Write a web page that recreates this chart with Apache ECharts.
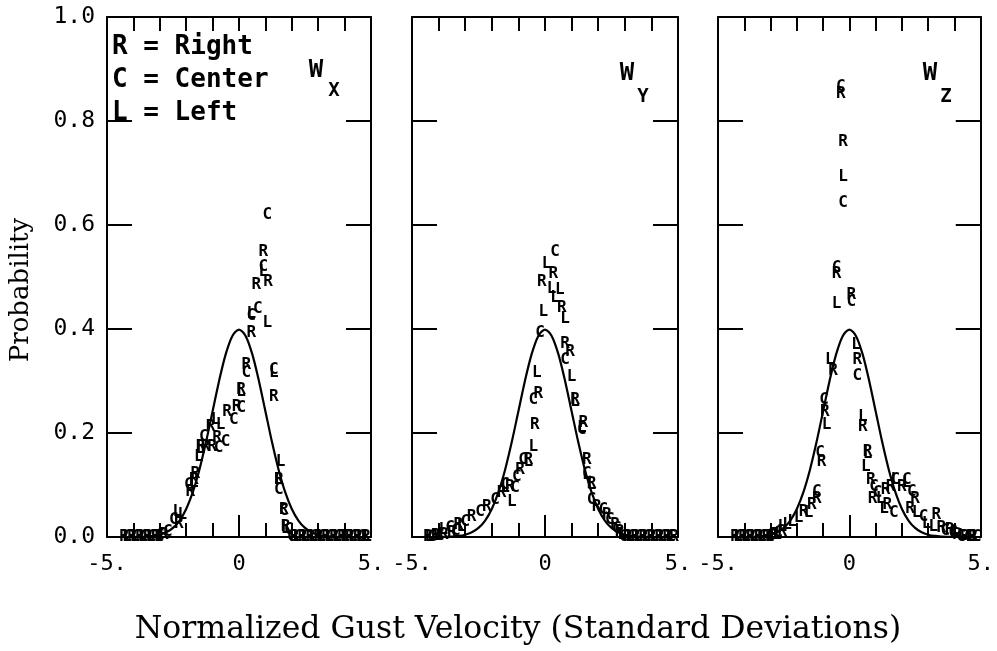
<!DOCTYPE html>
<html><head><meta charset="utf-8">
<script src="https://cdn.jsdelivr.net/npm/echarts@6/dist/echarts.min.js"></script>
<style>html,body{margin:0;padding:0;background:#fff}#c{width:997px;height:651px}</style>
</head><body><div id="c"></div>
<script>
// Normal reference curve
const curveX = [-5,-4.75,-4.5,-4.25,-4,-3.75,-3.5,-3.25,-3,-2.75,-2.5,-2.25,-2,-1.75,-1.5,-1.25,-1,-0.75,-0.5,-0.25,0,0.25,0.5,0.75,1,1.25,1.5,1.75,2,2.25,2.5,2.75,3,3.25,3.5,3.75,4,4.25,4.5,4.75,5];
const curveP = [0,0,0,0,0.0001,0.0004,0.0009,0.002,0.0044,0.0091,0.0175,0.0317,0.054,0.0863,0.1295,0.1826,0.242,0.3011,0.3521,0.3867,0.3989,0.3867,0.3521,0.3011,0.242,0.1826,0.1295,0.0863,0.054,0.0317,0.0175,0.0091,0.0044,0.002,0.0009,0.0004,0.0001,0,0,0,0];

// Panel W_x
const wxR = [[0.92,0.549],[1.10,0.491],[0.66,0.485],[0.47,0.393],[0.28,0.331],[0.08,0.283],[1.32,0.27],[-0.09,0.25],[-0.45,0.241],[-1.08,0.212],[-0.83,0.19],[-1.27,0.174],[-1.02,0.174],[-1.46,0.174],[-1.65,0.122],[-1.71,0.11],[-1.84,0.087],[-2.28,0.026],[1.51,0.11],[1.70,0.052],[1.76,0.02],
  [-4.35,0],[-4.05,0],[-3.75,0],[-3.45,0],[-3.15,0],[-2.85,0.005],[2.1,0],[2.4,0],[2.7,0],[3.0,0],[3.3,0],[3.6,0],[3.9,0],[4.2,0],[4.5,0],[4.8,0]];
const wxC = [[1.07,0.62],[0.92,0.52],[0.71,0.438],[0.47,0.425],[0.28,0.315],[1.32,0.322],[0.09,0.249],[-0.2,0.225],[-0.51,0.183],[-0.77,0.171],[-1.33,0.193],[-1.9,0.1],[-2.47,0.033],[1.51,0.09],[1.70,0.05],[1.89,0.013],
  [-4.2,0],[-3.9,0],[-3.6,0],[-3.3,0],[-3.0,0.002],[-2.7,0.01],[2.0,0],[2.25,0],[2.55,0],[2.85,0],[3.15,0],[3.45,0],[3.75,0],[4.05,0],[4.35,0],[4.65,0]];
const wxL = [[0.92,0.51],[0.47,0.43],[1.07,0.411],[1.32,0.315],[0.08,0.28],[-0.89,0.225],[-0.7,0.215],[-1.46,0.17],[-1.52,0.154],[-1.71,0.105],[-2.34,0.049],[-2.15,0.042],[1.57,0.145],[1.51,0.11],[1.76,0.015],
  [-4.25,0],[-3.95,0],[-3.65,0],[-3.35,0],[-3.05,0],[2.2,0],[2.5,0],[2.8,0],[3.1,0],[3.4,0],[3.7,0],[4.0,0],[4.3,0],[4.6,0],[4.85,0]];

// Panel W_y
const wyR = [[0.31,0.507],[-0.12,0.491],[0.63,0.44],[0.75,0.372],[0.94,0.356],[-0.25,0.276],[1.13,0.263],[1.44,0.219],[-0.38,0.215],[-0.63,0.148],[-0.94,0.129],[-1.32,0.097],[-1.63,0.084],[-2.19,0.058],[-2.76,0.039],[-3.26,0.023],[1.57,0.148],[1.75,0.103],[1.94,0.058],[2.32,0.042],[2.63,0.023],
  [-4.4,0],[-4.1,0.002],[-3.8,0.005],[-3.5,0.008],[2.8,0.01],[3.1,0],[3.4,0],[3.7,0],[4.0,0],[4.3,0],[4.6,0],[4.85,0]];
const wyC = [[0.38,0.549],[-0.19,0.392],[0.75,0.34],[-0.44,0.263],[1.38,0.206],[-0.82,0.148],[-1.06,0.116],[-1.5,0.1],[-1.13,0.094],[-1.88,0.071],[-2.44,0.049],[-3.0,0.029],[-3.57,0.017],[1.57,0.122],[1.75,0.071],[2.19,0.052],[2.44,0.033],
  [-4.25,0],[-3.95,0.003],[-3.35,0.012],[2.7,0.015],[2.95,0],[3.25,0],[3.55,0],[3.85,0],[4.15,0],[4.45,0],[4.75,0]];
const wyL = [[0.06,0.526],[0.25,0.478],[0.56,0.475],[0.38,0.459],[0.75,0.42],[-0.06,0.433],[-0.31,0.315],[1.0,0.308],[1.13,0.26],[1.38,0.21],[-0.44,0.174],[-0.63,0.145],[-1.25,0.068],[-1.5,0.095],[-3.82,0.013],[1.75,0.1],[1.57,0.12],
  [-4.35,0],[-4.05,0.002],[-3.15,0.02],[2.9,0.005],[3.2,0],[3.5,0],[3.8,0],[4.1,0],[4.4,0],[4.7,0]];

// Panel W_z
const wzR = [[-0.33,0.853],[-0.24,0.76],[-0.49,0.507],[0.07,0.465],[0.3,0.34],[-0.62,0.32],[-0.93,0.241],[-1.06,0.145],[-1.24,0.074],[0.51,0.212],[0.69,0.164],[0.82,0.11],[0.88,0.074],[1.38,0.09],[1.57,0.097],[2.0,0.097],[2.5,0.074],[3.31,0.042],[1.44,0.062],[2.31,0.055],[-1.43,0.062],[-1.74,0.049],
  [-4.35,0],[-4.05,0],[-3.75,0],[-3.45,0],[-3.15,0],[-2.85,0.005],[-2.55,0.01],[3.5,0.017],[3.81,0.013],[4.1,0.005],[4.4,0],[4.7,0]];
const wzC = [[-0.33,0.866],[-0.24,0.642],[-0.49,0.517],[0.07,0.452],[0.3,0.31],[-0.96,0.263],[-1.12,0.161],[-1.24,0.087],[1.07,0.084],[1.75,0.11],[2.19,0.11],[0.94,0.097],[2.38,0.087],[1.69,0.046],[2.82,0.039],
  [-4.2,0],[-3.9,0],[-3.6,0],[-3.3,0],[-3.0,0.003],[-2.7,0.008],[3.65,0.012],[3.95,0.008],[4.25,0],[4.55,0],[4.85,0]];
const wzL = [[-0.24,0.693],[-0.49,0.449],[0.25,0.37],[-0.74,0.34],[-0.87,0.215],[0.51,0.231],[0.63,0.135],[0.69,0.16],[1.19,0.074],[1.32,0.055],[1.75,0.11],[2.19,0.105],[2.56,0.046],[2.94,0.026],[3.19,0.02],[-1.55,0.046],[-1.93,0.036],[-2.18,0.029],[-2.37,0.023],[-2.55,0.02],
  [-4.25,0],[-3.95,0],[-3.65,0],[-3.35,0],[-3.05,0],[-2.75,0.005],[4.0,0.01],[4.3,0.003],[4.6,0],[4.8,0]];

const panelLetters = [[wxR, wxC, wxL],[wyR, wyC, wyL],[wzR, wzC, wzL]];
const letters = ['R','C','L'];
const panelSub = ['X','Y','Z'];
const yTickLabels = ['0.0','0.2','0.4','0.6','0.8','1.0'];
const xTickLabels = {'-5':'-5.','0':'0','5':'5.'};
const legendLines = ['R = Right','C = Center','L = Left'];

const gridLefts = [107, 412, 718];
const gridWidths = [264, 266, 267];
const MONO = 'DejaVu Sans Mono';

const grids = [], xAxes = [], yAxes = [], series = [];
for (let i = 0; i < 3; i++) {
  grids.push({left: gridLefts[i], width: gridWidths[i], top: 17, height: 520, containLabel: false});
  const line = {show: true, onZero: false, lineStyle: {color: '#000', width: 2}};
  xAxes.push({type: 'value', gridIndex: i, min: -5, max: 5, interval: 1, position: 'bottom',
    axisLine: line, splitLine: {show: false},
    axisTick: {show: true, inside: true, length: 14, lineStyle: {color: '#000', width: 2}},
    axisLabel: {show: true, margin: 16, color: '#000', fontFamily: MONO, fontSize: 22,
      formatter: v => (xTickLabels[String(v)] !== undefined ? xTickLabels[String(v)] : '')}});
  xAxes.push({type: 'value', gridIndex: i, min: -5, max: 5, interval: 5, position: 'bottom',
    axisLine: {show: false}, splitLine: {show: false}, axisLabel: {show: false},
    axisTick: {show: true, inside: true, length: 22, lineStyle: {color: '#000', width: 2}}});
  xAxes.push({type: 'value', gridIndex: i, min: -5, max: 5, interval: 1, position: 'top',
    axisLine: line, splitLine: {show: false}, axisLabel: {show: false},
    axisTick: {show: true, inside: true, length: 14, lineStyle: {color: '#000', width: 2}}});
  yAxes.push({type: 'value', gridIndex: i, min: 0, max: 1, interval: 0.2, position: 'left',
    axisLine: line, splitLine: {show: false},
    axisTick: {show: true, inside: true, length: 25, lineStyle: {color: '#000', width: 2}},
    axisLabel: {show: i === 0, margin: 12, color: '#000', fontFamily: MONO, fontSize: 23,
      formatter: v => yTickLabels[Math.round(v * 5)]}});
  yAxes.push({type: 'value', gridIndex: i, min: 0, max: 1, interval: 0.2, position: 'right',
    axisLine: line, splitLine: {show: false}, axisLabel: {show: false},
    axisTick: {show: true, inside: true, length: 25, lineStyle: {color: '#000', width: 2}}});

  series.push({type: 'line', xAxisIndex: 3 * i, yAxisIndex: 2 * i, smooth: 0.3, symbol: 'none',
    lineStyle: {color: '#000', width: 2.2}, data: curveX.map((x, k) => [x, curveP[k]]), z: 2});
  for (let j = 0; j < 3; j++) {
    series.push({type: 'scatter', xAxisIndex: 3 * i, yAxisIndex: 2 * i, symbol: 'circle', symbolSize: 1,
      itemStyle: {color: 'rgba(0,0,0,0)'}, z: 3,
      label: {show: true, position: 'inside', formatter: letters[j], color: '#000', opacity: 1,
        textBorderWidth: 0, textBorderColor: 'transparent',
        fontFamily: MONO, fontSize: 16, fontWeight: 'bold'},
      labelLayout: {hideOverlap: false},
      emphasis: {disabled: true},
      data: panelLetters[i][j]});
  }
}

const subX = [[316, 334], [627, 643], [930, 946]];
const subY = [[71, 91], [74, 97], [74, 97]];
const graphics = [];
legendLines.forEach((t, k) => graphics.push({type: 'text', x: 112, y: 47 + k * 33,
  style: {text: t, font: 'bold 26px "DejaVu Sans Mono"', fill: '#000', verticalAlign: 'middle'}}));
for (let i = 0; i < 3; i++) {
  graphics.push({type: 'text', x: subX[i][0], y: subY[i][0],
    style: {text: 'W', font: 'bold 24px "DejaVu Sans Mono"', fill: '#000', align: 'center', verticalAlign: 'middle'}});
  graphics.push({type: 'text', x: subX[i][1], y: subY[i][1],
    style: {text: panelSub[i], font: 'bold 19px "DejaVu Sans Mono"', fill: '#000', align: 'center', verticalAlign: 'middle'}});
}
graphics.push({type: 'text', x: 518, y: 630,
  style: {text: 'Normalized Gust Velocity (Standard Deviations)', font: '31.5px "DejaVu Serif"', fill: '#000', align: 'center', verticalAlign: 'middle'}});
graphics.push({type: 'text', x: 21, y: 290, rotation: Math.PI / 2,
  style: {text: 'Probability', font: '26px "DejaVu Serif"', fill: '#000', align: 'center', verticalAlign: 'middle'}});

const chart = echarts.init(document.getElementById('c'), null, {renderer: 'canvas'});
chart.setOption({animation: false, backgroundColor: '#fff', grid: grids, xAxis: xAxes, yAxis: yAxes, series: series, graphic: graphics});
</script></body></html>
